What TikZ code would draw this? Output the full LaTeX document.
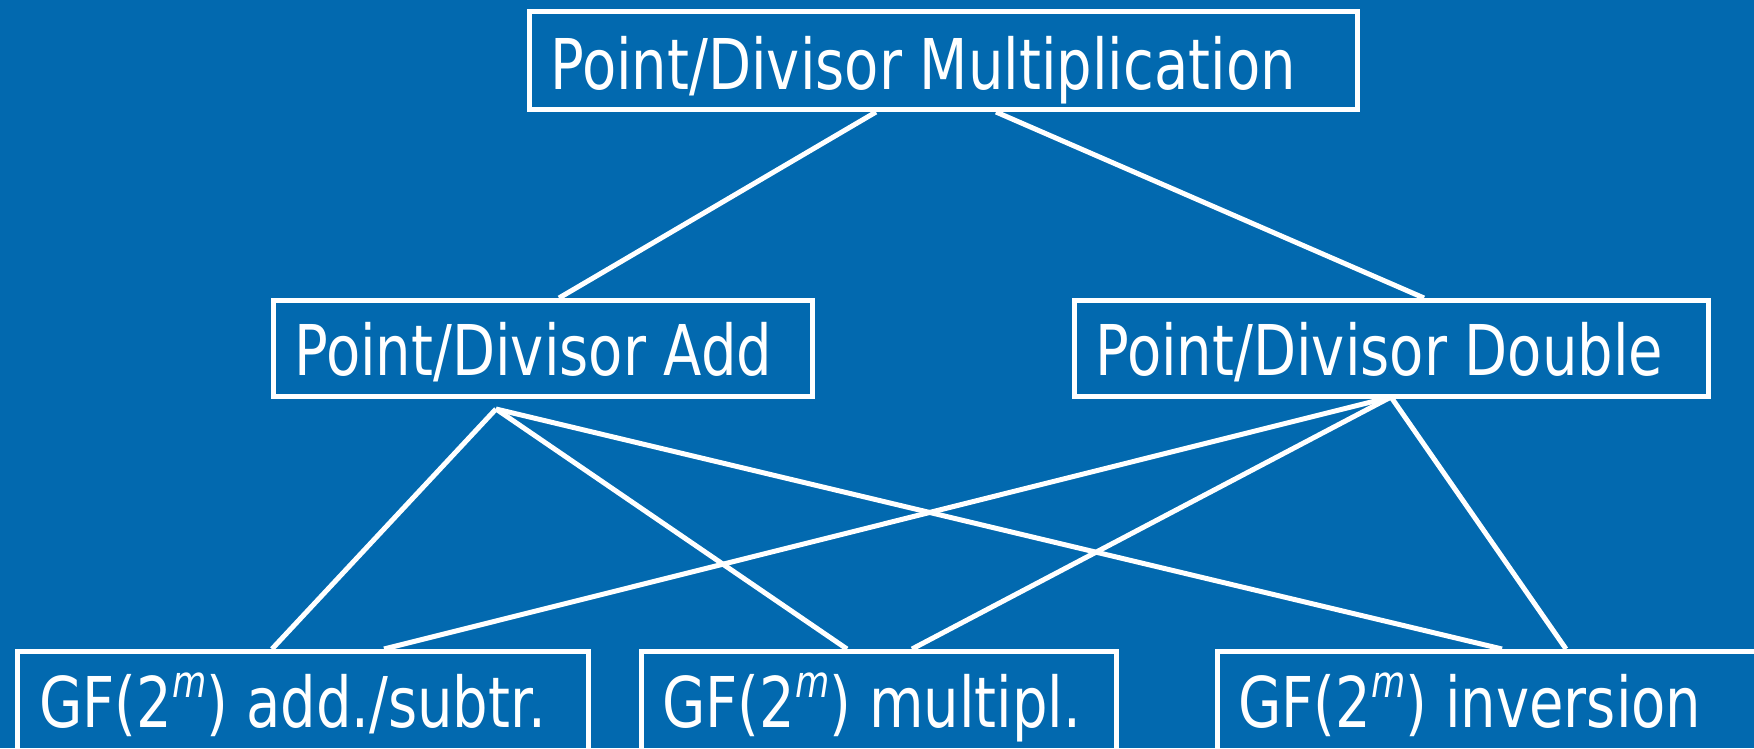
\documentclass[tikz,border=0pt]{standalone}
\usepackage{fontspec}
\setmainfont{DejaVu Sans}[FakeStretch=0.80]
\usetikzlibrary{calc}
\definecolor{bgblue}{RGB}{2,105,175}
\tikzset{
  box/.style={draw=white, line width=5pt, rectangle, inner sep=0pt},
  lbl/.style={text=white, anchor=base west, inner sep=0pt, font=\fontsize{70}{80}\selectfont},
  conn/.style={draw=white, line width=5pt}
}
\newcommand{\supm}{\raisebox{0.42em}{\fontsize{44}{50}\selectfont\itshape m}}
\begin{document}
\begin{tikzpicture}[x=1pt,y=-1pt]
\fill[bgblue] (0,0) rectangle (1754,748);
\useasboundingbox (0,0) rectangle (1754,748);
\clip (0,0) rectangle (1754,748);
% boxes
\node[box, minimum width=828pt, minimum height=98pt] (top) at (943.5,60.5) {};
\node[box, minimum width=539pt, minimum height=96pt] (add) at (543,348.5) {};
\node[box, minimum width=634pt, minimum height=96pt] (dbl) at (1391.5,348.5) {};
\node[box, minimum width=571pt, minimum height=146pt] (gfadd) at (303,724.5) {};
\node[box, minimum width=475pt, minimum height=146pt] (gfmul) at (879,724.5) {};
\node[box, minimum width=580pt, minimum height=146pt] (gfinv) at (1507.5,724.5) {};
% labels
\node[lbl] (toplbl) at (550,89) {Point/Divisor Multiplication};
\node[lbl] (addlbl) at (294,375) {Point/Divisor Add};
\node[lbl] (dbllbl) at (1095,375) {Point/Divisor Double};
\node[lbl] (gfaddlbl) at (39,727) {GF(2\supm) add./subtr.};
\node[lbl] (gfmullbl) at (662,727) {GF(2\supm) multipl.};
\node[lbl] (gfinvlbl) at (1238,727) {GF(2\supm) inversion};
% hubs
\coordinate (addhub) at (496,409);
\coordinate (dblhub) at (1391,397);
% connectors
\draw[conn] ([xshift=-67.5pt]top.south) -- ([xshift=16pt]add.north);
\draw[conn] ([xshift=52.5pt]top.south) -- ([xshift=32.5pt]dbl.north);
\draw[conn] (addhub) -- ([xshift=-31pt]gfadd.north);
\draw[conn] (addhub) -- ([xshift=-32pt]gfmul.north);
\draw[conn] (addhub) -- ([xshift=-5.5pt]gfinv.north);
\draw[conn] (dblhub) -- ([xshift=81pt]gfadd.north);
\draw[conn] (dblhub) -- ([xshift=33pt]gfmul.north);
\draw[conn] (dblhub) -- ([xshift=58.5pt]gfinv.north);
\end{tikzpicture}
\end{document}
